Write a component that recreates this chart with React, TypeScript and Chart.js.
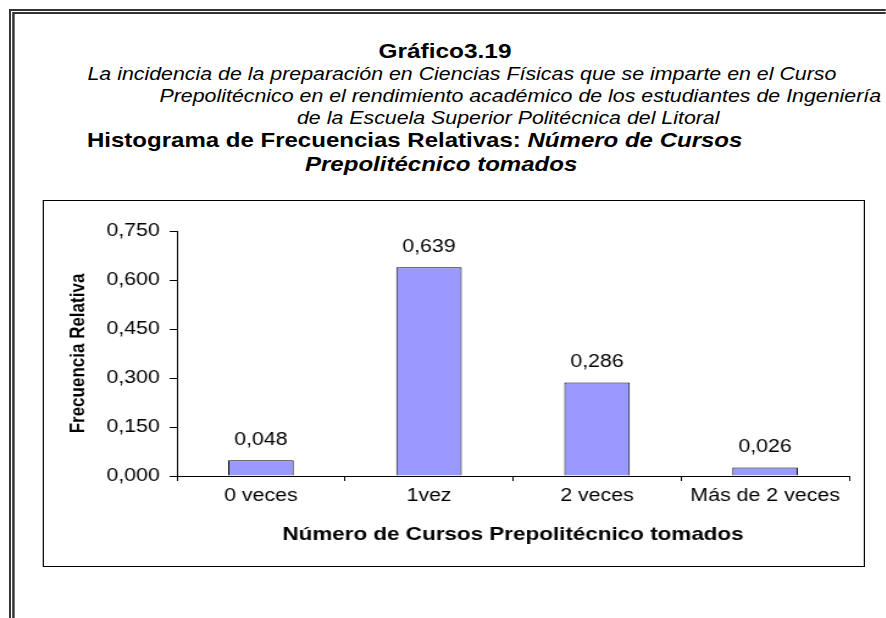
import React, { useEffect, useRef } from "react";
import { Chart, registerables } from "chart.js";

Chart.register(...registerables);

// ---- data ----
const categories = ["0 veces", "1vez", "2 veces", "Más de 2 veces"];
const relFreq = [0.048, 0.639, 0.286, 0.026];
const yTicks = [0, 0.15, 0.3, 0.45, 0.6, 0.75];

const titleText = "Gráfico3.19";
const subtitleLines = [
  "La incidencia de la preparación en Ciencias Físicas que se imparte en el Curso",
  "Prepolitécnico en el rendimiento académico de los estudiantes de Ingeniería",
  "de la Escuela Superior Politécnica del Litoral",
];
const headingPlain = "Histograma de Frecuencias Relativas: ";
const headingItalic1 = "Número de Cursos";
const headingItalic2 = "Prepolitécnico tomados";
const xTitle = "Número de Cursos Prepolitécnico tomados";
const yTitle = "Frecuencia Relativa";

const FONT = "'Liberation Sans', Arial, Helvetica, sans-serif";
const S = 1.22; // horizontal stretch of the reference
const fmt = (v: number) => v.toFixed(3).replace(".", ",");

const valueLabels = {
  id: "valueLabels",
  afterDatasetsDraw(chart: any) {
    const ctx = chart.ctx;
    const meta = chart.getDatasetMeta(0);
    ctx.save();
    ctx.font = `17.5px ${FONT}`;
    ctx.fillStyle = "#000";
    ctx.textAlign = "center";
    ctx.textBaseline = "middle";
    meta.data.forEach((bar: any, i: number) => {
      ctx.fillText(fmt(relFreq[i]), bar.x, bar.y - 20);
    });
    ctx.restore();
  },
};

export default function App() {
  const ref = useRef<HTMLCanvasElement | null>(null);

  useEffect(() => {
    if (!ref.current) return;
    Chart.defaults.font.family = FONT;
    Chart.defaults.color = "#000";
    const chart = new Chart(ref.current, {
      type: "bar",
      data: {
        labels: categories,
        datasets: [
          {
            data: relFreq,
            backgroundColor: "#9999FF",
            borderColor: "#000",
            borderWidth: 1,
            barPercentage: 0.39,
            categoryPercentage: 1,
          },
        ],
      },
      options: {
        responsive: false,
        animation: false,
        layout: { padding: { left: 0, right: 12, top: 30, bottom: 18 } },
        plugins: {
          legend: { display: false },
          tooltip: { enabled: false },
          title: { display: false },
        },
        scales: {
          x: {
            type: "category",
            offset: true,
            grid: {
              display: true,
              offset: true,
              drawOnChartArea: false,
              drawTicks: true,
              tickLength: 5,
              color: "#000",
              lineWidth: 1,
            },
            border: { display: true, color: "#000", width: 1 },
            ticks: {
              color: "#000",
              font: { size: 17.5 },
              padding: 5,
              maxRotation: 0,
              autoSkip: false,
            },
            title: {
              display: true,
              text: xTitle,
              color: "#000",
              font: { size: 18.4, weight: "bold" },
              padding: { top: 2, bottom: 2 },
            },
            afterFit: (s: any) => {
              s.height = 72;
            },
          },
          y: {
            min: 0,
            max: 0.75,
            afterBuildTicks: (s: any) => {
              s.ticks = yTicks.map((v) => ({ value: v }));
            },
            grid: {
              drawOnChartArea: false,
              drawTicks: true,
              tickLength: 6,
              color: "#000",
            },
            border: { display: true, color: "#000", width: 1 },
            ticks: {
              color: "#000",
              font: { size: 17.5 },
              padding: 8,
              callback: (v: any) => fmt(Number(v)),
            },
            title: {
              display: true,
              text: yTitle,
              color: "#000",
              font: { size: 17, weight: "bold" },
              padding: { top: 18, bottom: 18 },
            },
            afterFit: (s: any) => {
              s.width = 109;
            },
          },
        },
      } as any,
      plugins: [valueLabels],
    });
    return () => chart.destroy();
  }, []);

  const text = (extra: React.CSSProperties): React.CSSProperties => ({
    position: "absolute",
    whiteSpace: "nowrap",
    fontFamily: FONT,
    color: "#000",
    margin: 0,
    ...extra,
  });

  return (
    <div
      style={{
        position: "fixed",
        left: 0,
        top: 0,
        width: 886 / S,
        height: 618,
        overflow: "hidden",
        background: "#fff",
        transform: `scaleX(${S})`,
        transformOrigin: "0 0",
      }}
    >
      {/* page double border (top and left) */}
      <div
        style={{
          position: "absolute",
          left: 8 / S,
          top: 9,
          width: 886 / S,
          height: 700,
          borderTop: "5px double #333",
          borderLeft: "5px double #333",
          boxSizing: "border-box",
        }}
      />
      {/* titles */}
      <div
        style={text({
          left: 445 / S,
          top: 41,
          transform: "translateX(-50%)",
          fontSize: 20,
          lineHeight: "20px",
          fontWeight: "bold",
        })}
      >
        {titleText}
      </div>
      <div style={text({ left: 87.5 / S, top: 66, fontSize: 17.5, lineHeight: "17.5px", fontStyle: "italic" })}>
        {subtitleLines[0]}
      </div>
      <div style={text({ left: 159.5 / S, top: 88, fontSize: 17.5, lineHeight: "17.5px", fontStyle: "italic" })}>
        {subtitleLines[1]}
      </div>
      <div style={text({ left: 297 / S, top: 109.5, fontSize: 17.5, lineHeight: "17.5px", fontStyle: "italic" })}>
        {subtitleLines[2]}
      </div>
      <div style={text({ left: 87 / S, top: 131, fontSize: 19.7, lineHeight: "19.7px", fontWeight: "bold" })}>
        {headingPlain}
        <span style={{ fontStyle: "italic" }}>{headingItalic1}</span>
      </div>
      <div
        style={text({
          left: 305 / S,
          top: 155,
          fontSize: 19.7,
          lineHeight: "19.7px",
          fontWeight: "bold",
          fontStyle: "italic",
        })}
      >
        {headingItalic2}
      </div>
      {/* chart box */}
      <div
        style={{
          position: "absolute",
          left: 43 / S,
          top: 200,
          width: (865 - 43) / S,
          height: 367,
          border: "1px solid #000",
          boxSizing: "border-box",
        }}
      />
      <canvas
        ref={ref}
        width={672}
        height={365}
        style={{ position: "absolute", left: 44 / S, top: 201, width: 672, height: 365 }}
      />
    </div>
  );
}
